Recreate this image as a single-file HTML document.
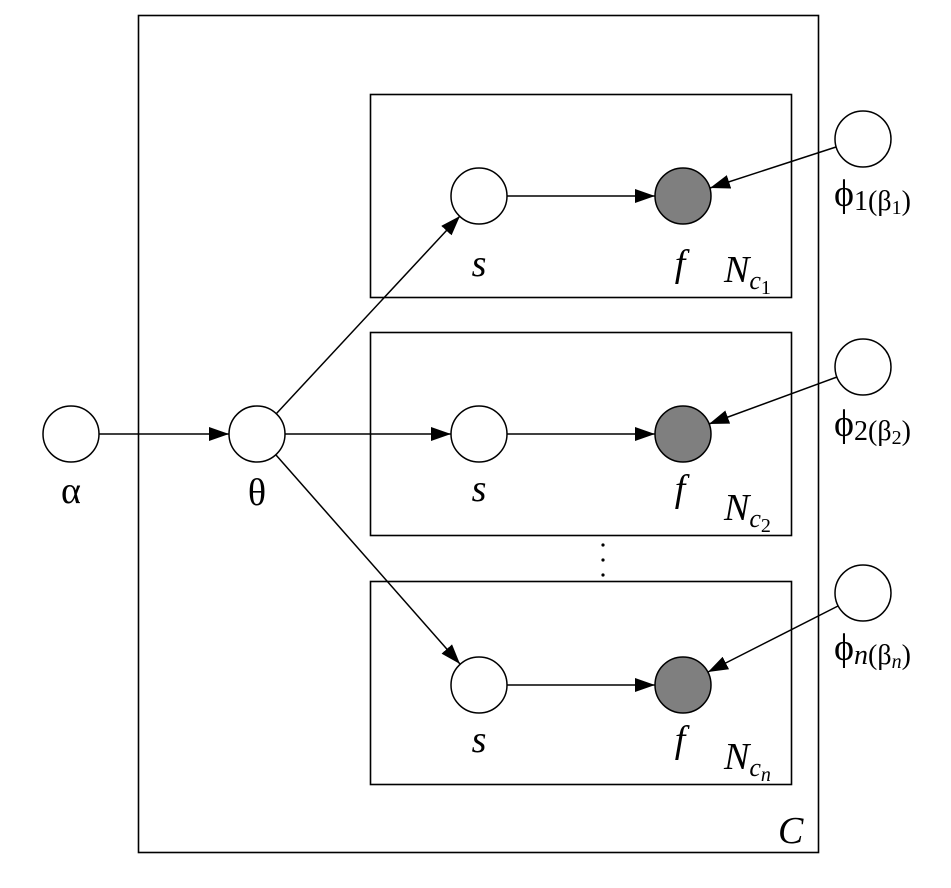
<!DOCTYPE html>
<html><head><meta charset="utf-8"><style>html,body{margin:0;padding:0;background:#fff}</style></head>
<body>
<svg width="951" height="883" viewBox="0 0 951 883" xmlns="http://www.w3.org/2000/svg" font-family="Liberation Serif, DejaVu Serif, serif">
<defs>
<marker id="a" markerUnits="userSpaceOnUse" markerWidth="22" markerHeight="16" refX="20" refY="7" orient="auto">
<path d="M0,0 L20,7 L0,14 z" fill="#000"/>
</marker>
</defs>
<g fill="none" stroke="#000" stroke-width="1.6">
<rect x="138.5" y="15.5" width="680" height="837"/>
<rect x="370.5" y="94.5" width="421" height="203"/>
<rect x="370.5" y="332.5" width="421" height="203"/>
<rect x="370.5" y="581.5" width="421" height="203"/>
</g>
<g stroke="#000" stroke-width="1.5" fill="none" marker-end="url(#a)">
<line x1="99" y1="434" x2="229" y2="434"/>
<line x1="285" y1="434" x2="451" y2="434"/>
<line x1="276" y1="414" x2="460" y2="216"/>
<line x1="276" y1="455" x2="460" y2="664"/>
<line x1="507" y1="196" x2="655" y2="196"/>
<line x1="507" y1="434" x2="655" y2="434"/>
<line x1="507" y1="685" x2="655" y2="685"/>
<line x1="836" y1="147" x2="710" y2="188"/>
<line x1="837" y1="377" x2="709" y2="424"/>
<line x1="838" y1="606" x2="708" y2="672"/>
</g>
<g stroke="#000" stroke-width="1.5">
<circle cx="71" cy="434" r="28" fill="#fff"/>
<circle cx="257" cy="434" r="28" fill="#fff"/>
<circle cx="479" cy="196" r="28" fill="#fff"/>
<circle cx="479" cy="434" r="28" fill="#fff"/>
<circle cx="479" cy="685" r="28" fill="#fff"/>
<circle cx="683" cy="196" r="28" fill="#7f7f7f"/>
<circle cx="683" cy="434" r="28" fill="#7f7f7f"/>
<circle cx="683" cy="685" r="28" fill="#7f7f7f"/>
<circle cx="863" cy="139" r="28" fill="#fff"/>
<circle cx="863" cy="367" r="28" fill="#fff"/>
<circle cx="863" cy="593" r="28" fill="#fff"/>
</g>
<g fill="#000" font-size="38" text-anchor="middle">
<text x="71" y="503">α</text>
<text x="257" y="505">θ</text>
<text x="479" y="276" font-style="italic">s</text>
<text x="479" y="501" font-style="italic">s</text>
<text x="479" y="752" font-style="italic">s</text>
<text x="680" y="276" font-style="italic">f</text>
<text x="680" y="501" font-style="italic">f</text>
<text x="680" y="752" font-style="italic">f</text>
</g>
<g fill="#000" font-size="38">
<text x="724" y="282" font-style="italic">N<tspan font-size="26" dy="7">c</tspan><tspan font-size="20" dy="5" font-style="normal">1</tspan></text>
<text x="724" y="520" font-style="italic">N<tspan font-size="26" dy="7">c</tspan><tspan font-size="20" dy="5" font-style="normal">2</tspan></text>
<text x="724" y="769" font-style="italic">N<tspan font-size="26" dy="7">c</tspan><tspan font-size="20" dy="5" font-style="italic">n</tspan></text>
<text x="778" y="843" font-style="italic">C</text>
<text x="834" y="206">ϕ<tspan font-size="28" dy="4">1(β</tspan><tspan font-size="20" dy="4">1</tspan><tspan font-size="28" dy="-4">)</tspan></text>
<text x="834" y="436">ϕ<tspan font-size="28" dy="4">2(β</tspan><tspan font-size="20" dy="4">2</tspan><tspan font-size="28" dy="-4">)</tspan></text>
<text x="834" y="660">ϕ<tspan font-size="28" dy="4" font-style="italic">n</tspan><tspan font-size="28">(β</tspan><tspan font-size="20" dy="4" font-style="italic">n</tspan><tspan font-size="28" dy="-4">)</tspan></text>
</g>
<g fill="#000">
<circle cx="603" cy="545" r="1.6"/>
<circle cx="603" cy="560" r="1.6"/>
<circle cx="603" cy="575" r="1.6"/>
</g>
</svg>
</body></html>
